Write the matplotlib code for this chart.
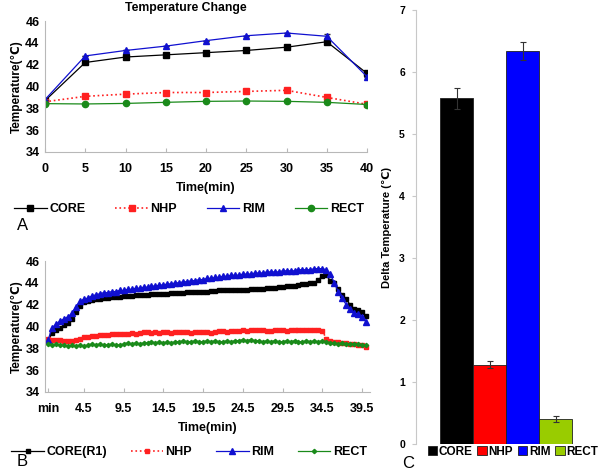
import matplotlib
matplotlib.use("Agg")
import matplotlib.pyplot as plt
import numpy as np

plt.rcParams['font.family'] = ['Liberation Sans', 'DejaVu Sans']
plt.rcParams['font.weight'] = 'bold'

# panel A: 5-min averages
time_a = [0, 5, 10, 15, 20, 25, 30, 35, 40]
core_a = [38.7, 42.2, 42.7, 42.9, 43.1, 43.3, 43.6, 44.1, 41.2]
nhp_a = [38.6, 39.1, 39.3, 39.45, 39.45, 39.55, 39.65, 39.0, 38.37]
rim_a = [38.8, 42.8, 43.3, 43.7, 44.2, 44.65, 44.9, 44.6, 40.9]
rect_a = [38.43, 38.4, 38.45, 38.55, 38.64, 38.67, 38.64, 38.55, 38.35]
rim_a_err = [0, 0, 0, 0, 0, 0, 0, 0.2, 0]

# panel B: sampled every 0.5 min
time_b = np.arange(0, 40.5, 0.5)
core_b = [38.7, 39.4, 39.7, 39.9, 40.1, 40.3, 40.7, 41.3, 41.9, 42.2,
          42.3, 42.4, 42.5, 42.5, 42.6, 42.6, 42.7, 42.7, 42.7, 42.8,
          42.8, 42.8, 42.85, 42.9, 42.9, 42.9, 42.95, 43.0, 43.0, 43.0,
          43.0, 43.05, 43.1, 43.1, 43.1, 43.15, 43.15, 43.2, 43.2, 43.2,
          43.2, 43.25, 43.25, 43.3, 43.3, 43.3, 43.3, 43.35, 43.35, 43.35,
          43.35, 43.4, 43.4, 43.45, 43.45, 43.5, 43.5, 43.55, 43.6, 43.6,
          43.7, 43.7, 43.75, 43.8, 43.85, 43.9, 43.95, 44.0, 44.3, 44.6,
          44.7, 44.2, 44.0, 43.4, 42.9, 42.5, 42.0, 41.6, 41.5, 41.3,
          41.0]
nhp_b = [38.9, 38.8, 38.8, 38.8, 38.7, 38.7, 38.7, 38.8, 38.9, 39.0,
         39.0, 39.1, 39.1, 39.2, 39.2, 39.2, 39.3, 39.3, 39.3, 39.3,
         39.3, 39.4, 39.3, 39.4, 39.5, 39.5, 39.4, 39.5, 39.4, 39.5,
         39.5, 39.4, 39.5, 39.5, 39.5, 39.5, 39.4, 39.5, 39.5, 39.5,
         39.5, 39.4, 39.5, 39.6, 39.6, 39.5, 39.6, 39.6, 39.6, 39.7,
         39.6, 39.7, 39.7, 39.7, 39.7, 39.6, 39.6, 39.7, 39.7, 39.7,
         39.6, 39.7, 39.7, 39.7, 39.7, 39.7, 39.7, 39.7, 39.7, 39.6,
         38.9, 38.7, 38.6, 38.6, 38.5, 38.5, 38.4, 38.4, 38.3, 38.3,
         38.1]
rim_b = [38.8, 39.9, 40.2, 40.5, 40.7, 40.9, 41.2, 41.8, 42.3, 42.5,
         42.6, 42.8, 42.9, 43.0, 43.1, 43.1, 43.2, 43.2, 43.3, 43.3,
         43.4, 43.4, 43.5, 43.5, 43.6, 43.6, 43.7, 43.7, 43.8, 43.8,
         43.9, 43.9, 44.0, 44.0, 44.1, 44.1, 44.2, 44.2, 44.3, 44.3,
         44.4, 44.4, 44.5, 44.5, 44.6, 44.6, 44.7, 44.7, 44.7, 44.8,
         44.8, 44.8, 44.9, 44.9, 44.9, 45.0, 45.0, 45.0, 45.0, 45.1,
         45.1, 45.1, 45.1, 45.2, 45.2, 45.2, 45.2, 45.3, 45.3, 45.3,
         45.2, 44.8, 44.0, 43.2, 42.6, 42.0, 41.6, 41.2, 41.1, 40.9,
         40.4]
rect_b = [38.4, 38.3, 38.4, 38.3, 38.3, 38.2, 38.3, 38.2, 38.3, 38.2,
          38.3, 38.4, 38.3, 38.4, 38.3, 38.3, 38.4, 38.3, 38.3, 38.4,
          38.5, 38.4, 38.5, 38.4, 38.5, 38.5, 38.6, 38.5, 38.6, 38.5,
          38.6, 38.5, 38.6, 38.6, 38.7, 38.6, 38.6, 38.7, 38.6, 38.6,
          38.7, 38.6, 38.7, 38.6, 38.6, 38.7, 38.6, 38.7, 38.7, 38.8,
          38.7, 38.8, 38.7, 38.7, 38.6, 38.7, 38.6, 38.7, 38.6, 38.6,
          38.7, 38.6, 38.7, 38.6, 38.6, 38.7, 38.6, 38.7, 38.6, 38.7,
          38.6, 38.5, 38.5, 38.4, 38.5, 38.4, 38.4, 38.4, 38.4, 38.3,
          38.3]
ticks_b = [0, 4.5, 9.5, 14.5, 19.5, 24.5, 29.5, 34.5, 39.5]
ticklabels_b = ['min', '4.5', '9.5', '14.5', '19.5', '24.5', '29.5', '34.5', '39.5']

# panel C: delta temperature
groups = ['CORE', 'NHP', 'RIM', 'RECT']
delta = [5.58, 1.28, 6.34, 0.40]
delta_err = [0.17, 0.06, 0.15, 0.05]
bar_colors = ['#000000', '#ff0000', '#0000ff', '#99cc00']

W, H = 603, 474
fig = plt.figure(figsize=(W / 100, H / 100), dpi=100)

def style_line_axes(ax):
    for s in ['top', 'right']:
        ax.spines[s].set_visible(False)
    for s in ['left', 'bottom']:
        ax.spines[s].set_color('#b8b8b8')
        ax.spines[s].set_linewidth(0.8)
    ax.set_ylim(34, 46)
    ax.set_yticks(range(34, 47, 2))
    ax.tick_params(axis='y', length=0, labelsize=9, pad=4)
    ax.tick_params(axis='x', direction='in', length=3, color='#b8b8b8',
                   labelsize=9, pad=8)
    ax.set_ylabel('Temperature(\u2103)', fontsize=8.5, fontweight='bold', labelpad=2)
    ax.set_xlabel('Time(min)', fontsize=9, fontweight='bold', labelpad=5)

# ---- A
axA = fig.add_axes([45 / W, 1 - 152 / H, 322 / W, 131 / H])
axA.plot(time_a, core_a, '-', color='black', lw=0.9, marker='s', ms=4.5, label='CORE')
axA.plot(time_a, nhp_a, ':', color='#ff2020', lw=1.2, marker='s', ms=4.5, label='NHP')
axA.errorbar(time_a, rim_a, yerr=rim_a_err, fmt='none', capsize=2,
             elinewidth=0.7, ecolor='#333333')
axA.plot(time_a, rim_a, '-', color='#1010d0', lw=0.9, marker='^', ms=4.5, label='RIM')
axA.plot(time_a, rect_a, '-', color='#1a8a1a', lw=0.9, marker='o', ms=4.5, label='RECT')
axA.set_xlim(0, 40)
axA.set_xticks(time_a)
style_line_axes(axA)
fig.text(186 / W, 1 - 8 / H, 'Temperature Change', ha='center', va='center',
         fontsize=8.8, fontweight='bold')
hA, lA = axA.get_legend_handles_labels()
fig.legend(hA, lA, loc='center', bbox_to_anchor=(189 / W, 1 - 209 / H), ncol=4,
           frameon=False, fontsize=9, handlelength=2.6, handletextpad=0.2,
           columnspacing=2.4, numpoints=1, borderpad=0)
fig.text(17 / W, 1 - 225 / H, 'A', ha='left', va='center', fontsize=12, fontweight='normal')

# ---- B
axB = fig.add_axes([45 / W, 1 - 392 / H, 325 / W, 131 / H])
axB.plot(time_b, core_b, '-', color='black', lw=0.9, marker='s', ms=3.5, label='CORE(R1)')
axB.plot(time_b, nhp_b, ':', color='#ff2020', lw=1.2, marker='s', ms=3.5, label='NHP')
axB.plot(time_b, rim_b, '-', color='#1010d0', lw=0.9, marker='^', ms=3.8, label='RIM')
axB.plot(time_b, rect_b, '-', color='#1a8a1a', lw=0.9, marker='D', ms=2.2, label='RECT')
axB.set_xlim(-0.4, 40.5)
axB.set_xticks(ticks_b)
axB.set_xticklabels(ticklabels_b)
style_line_axes(axB)
hB, lB = axB.get_legend_handles_labels()
fig.legend(hB, lB, loc='center', bbox_to_anchor=(189 / W, 1 - 452 / H), ncol=4,
           frameon=False, fontsize=9, handlelength=2.6, handletextpad=0.2,
           columnspacing=1.9, numpoints=1, borderpad=0)
fig.text(17 / W, 1 - 462 / H, 'B', ha='left', va='center', fontsize=12, fontweight='normal')

# ---- C
axC = fig.add_axes([416 / W, 1 - 444 / H, 184 / W, 434 / H])
xpos = np.arange(len(groups))
bars = axC.bar(xpos, delta, width=1.0, color=bar_colors, edgecolor='#202020',
               linewidth=0.6, yerr=delta_err, capsize=2.5,
               error_kw=dict(elinewidth=0.8, ecolor='#333333', capthick=0.8))
axC.set_xlim(-1.23, -1.23 + 184 / 33)
axC.set_ylim(0, 7)
axC.set_yticks(range(0, 8))
axC.set_xticks([])
for s in ['top', 'right', 'bottom']:
    axC.spines[s].set_visible(False)
axC.spines['left'].set_color('#c8c8c8')
axC.spines['left'].set_linewidth(0.8)
axC.tick_params(axis='y', direction='out', length=3, color='#c8c8c8', labelsize=7.5, pad=5)
axC.set_ylabel('Delta Temperature (\u2103)', fontsize=8, fontweight='bold', labelpad=5)
fig.legend(bars.patches, groups, loc='center', bbox_to_anchor=(513 / W, 1 - 452 / H),
           ncol=4, frameon=False, fontsize=8.5, handlelength=0.8, handleheight=0.8,
           handletextpad=0.15, columnspacing=0.4, borderpad=0.1)
fig.text(402 / W, 1 - 463 / H, 'C', ha='left', va='center', fontsize=12, fontweight='normal')

plt.savefig('out.png', dpi=100)
